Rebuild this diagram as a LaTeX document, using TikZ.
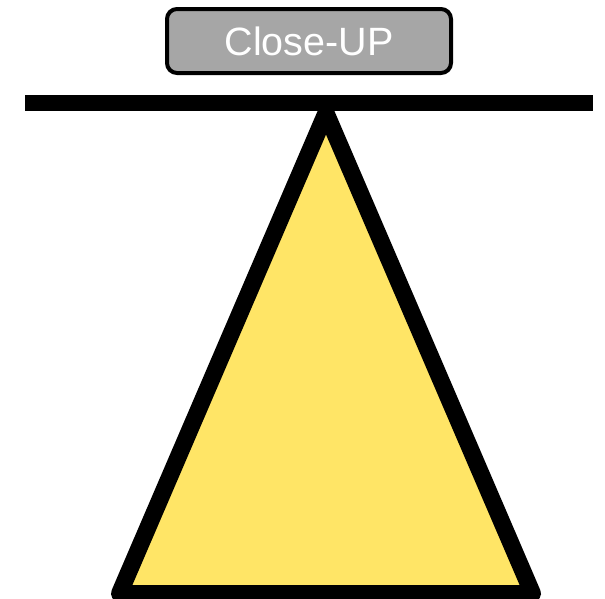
\documentclass[tikz,border=0pt]{standalone}
\usepackage{fontspec}
\setmainfont{Liberation Sans}
\definecolor{triyellow}{HTML}{FFE566}
\definecolor{boxgray}{HTML}{A6A6A6}
\tikzset{
  labelbox/.style={draw=black, line width=4pt, fill=boxgray, rounded corners=10pt,
    minimum width=284pt, minimum height=64pt, inner sep=0pt, text=white,
    font=\fontsize{39.5}{41}\selectfont},
  tri/.style={draw=black, fill=triyellow, line width=17pt, line join=round},
  bar/.style={draw=black, line width=16pt, line cap=butt}
}
\begin{document}
\begin{tikzpicture}[x=1pt,y=-1pt]
\useasboundingbox (0,0) rectangle (605,598);
\coordinate (apex) at (326,113);
\coordinate (bl) at (119.5,593.5);
\coordinate (br) at (532.5,593.5);
\draw[tri] (apex) -- (bl) -- (br) -- cycle;
\coordinate (l1) at (25,103);
\coordinate (l2) at (593,103);
\draw[bar] (l1) -- (l2);
\node[labelbox] (lbl) at (309,41) {Close-UP};
\end{tikzpicture}
\end{document}
